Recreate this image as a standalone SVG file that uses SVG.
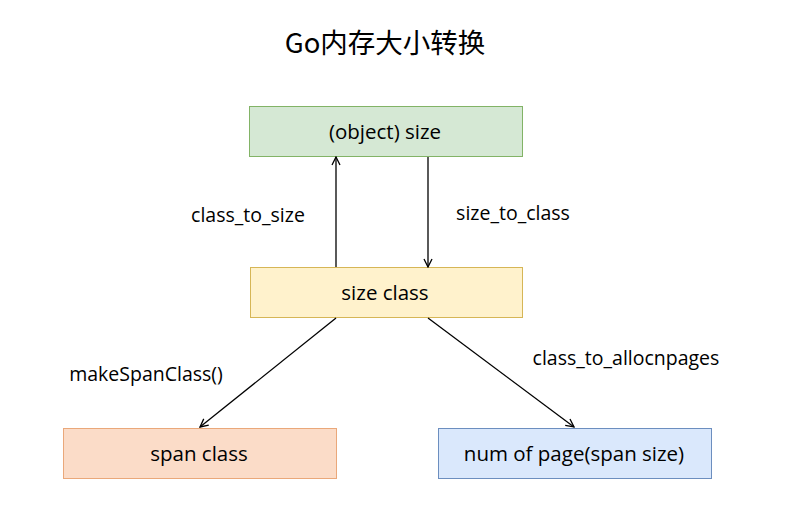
<svg xmlns="http://www.w3.org/2000/svg" width="785" height="521" viewBox="0 0 785 521">
<style>
text{font-family:"Open Sans","Noto Sans CJK SC",sans-serif;fill:#000;text-anchor:middle}
.n{font-size:20.5px}
.l{font-size:19.5px}
.c{stroke:#000;stroke-width:1.3;fill:none;marker-end:url(#ah)}
</style>
<defs>
<marker id="ah" viewBox="0 0 10 10" refX="9" refY="5" markerWidth="10" markerHeight="10" markerUnits="userSpaceOnUse" orient="auto">
<path d="M1,1 L9,5 L1,9" fill="none" stroke="#000" stroke-width="1.3"/>
</marker>
</defs>
<rect width="785" height="521" fill="#fff"/>
<text x="385" y="53" style="font-size:27.5px;font-family:'Noto Sans CJK SC',sans-serif">Go内存大小转换</text>
<g id="obj"><rect x="249.5" y="106.5" width="273" height="50" fill="#d5e8d4" stroke="#82b366"/><text class="n" x="385" y="139">(object) size</text></g>
<g id="sizeclass"><rect x="250.5" y="267.5" width="272" height="50" fill="#fff2cc" stroke="#d6b656"/><text class="n" x="385" y="300">size class</text></g>
<g id="spanclass"><rect x="63.5" y="428.5" width="273" height="50" fill="#fbdcc8" stroke="#eaa87a"/><text class="n" x="199" y="461">span class</text></g>
<g id="npages"><rect x="438.5" y="428.5" width="273" height="50" fill="#dae8fc" stroke="#6c8ebf"/><text class="n" x="574" y="461">num of page(span size)</text></g>
<g id="connectors">
<line class="c" x1="336" y1="267" x2="336" y2="157"/>
<line class="c" x1="428" y1="157" x2="428" y2="267"/>
<line class="c" x1="336" y1="318" x2="200" y2="427"/>
<line class="c" x1="428" y1="318" x2="574" y2="427"/>
<text class="l" x="248" y="222">class_to_size</text>
<text class="l" x="513" y="220">size_to_class</text>
<text class="l" x="146" y="381">makeSpanClass()</text>
<text class="l" x="626" y="365">class_to_allocnpages</text>
</g>
</svg>
